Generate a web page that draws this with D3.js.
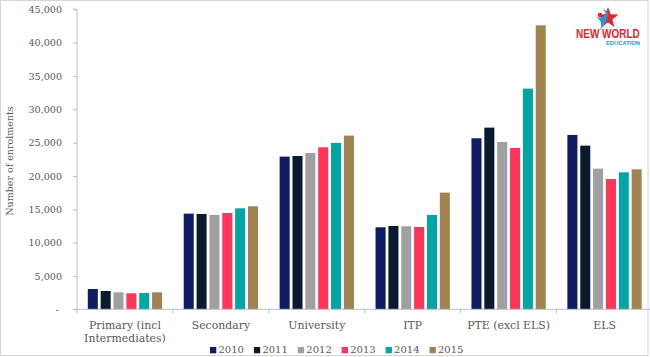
<!DOCTYPE html>
<html><head><meta charset="utf-8">
<script src="https://cdn.jsdelivr.net/npm/d3@7"></script>
<style>
html,body{margin:0;padding:0;background:#fff;}
svg{display:block;}
text{font-family:"DejaVu Serif",serif;fill:#595959;}
</style></head>
<body>
<svg id="chart" width="650" height="357"></svg>
<script>
const categories = ["Primary (incl Intermediates)", "Secondary", "University", "ITP", "PTE (excl ELS)", "ELS"];
const categoryLines = [["Primary (incl", "Intermediates)"], ["Secondary"], ["University"], ["ITP"], ["PTE (excl ELS)"], ["ELS"]];
const years = ["2010", "2011", "2012", "2013", "2014", "2015"];
const colors = ["#0f1c63", "#0b1b2e", "#a0a0a3", "#ff3559", "#00a6a1", "#a08350"];
const values2010 = [3050, 14350, 22900, 12300, 25650, 26150];
const values2011 = [2750, 14300, 23000, 12500, 27250, 24550];
const values2012 = [2550, 14150, 23450, 12450, 25100, 21100];
const values2013 = [2400, 14450, 24300, 12350, 24200, 19550];
const values2014 = [2450, 15150, 24950, 14150, 33100, 20550];
const values2015 = [2550, 15450, 26050, 17500, 42600, 21000];
const seriesValues = [values2010, values2011, values2012, values2013, values2014, values2015];
const yTicks = [0, 5000, 10000, 15000, 20000, 25000, 30000, 35000, 40000, 45000];
const yTitle = "Number of enrolments";

(function () {
const svg = d3.select("#chart");
const pLeft = 77, pRight = 652.5, pTop = 9.3, pBottom = 309.3;

// frame
svg.append("rect").attr("x",0.5).attr("y",0.5).attr("width",647.5).attr("height",355)
  .attr("fill","none").attr("stroke","#d6d6d6");

const x0 = d3.scaleBand().domain(categories).range([pLeft, pRight]).padding(0);
const x1 = d3.scaleBand().domain(years).range([10.8, 85.1]).paddingInner(0.22).paddingOuter(0);
const y = d3.scaleLinear().domain([0, 45000]).range([pBottom, pTop]);

// bars
const groups = svg.append("g").selectAll("g").data(categories).join("g")
  .attr("transform", d => `translate(${x0(d)},0)`);
groups.selectAll("rect").data((c, i) => years.map((yr, j) => ({yr, j, v: seriesValues[j][i]})))
  .join("rect")
  .attr("x", d => x1(d.yr)).attr("width", x1.bandwidth())
  .attr("y", d => y(d.v)).attr("height", d => pBottom - y(d.v))
  .attr("fill", d => colors[d.j]);

// y axis
const yAxis = d3.axisLeft(y).tickValues(yTicks).tickSize(4).tickPadding(11)
  .tickFormat(d => d === 0 ? "-" : d3.format(",")(d));
const ya = svg.append("g").attr("transform", `translate(${pLeft},0)`).call(yAxis);
ya.select(".domain").attr("stroke", "#bfbfbf").attr("d", `M-4,${pTop}H0V${pBottom}`);
ya.selectAll(".tick line").attr("stroke", "#bfbfbf");
ya.selectAll(".tick text").attr("font-size", "9.6px");
ya.selectAll(".tick").filter(d => d === 0).select("text").attr("dx", "-3px");

// x axis
const xa = svg.append("g");
xa.append("line").attr("x1", pLeft - 4).attr("x2", pRight).attr("y1", pBottom).attr("y2", pBottom).attr("stroke", "#bfbfbf");
const seps = categories.map(c => x0(c)).concat([pRight]);
xa.selectAll("line.sep").data(seps).join("line").attr("class","sep")
  .attr("x1", d => d).attr("x2", d => d).attr("y1", pBottom).attr("y2", pBottom + 4).attr("stroke", "#bfbfbf");
categories.forEach((c, i) => {
  const t = xa.append("text").attr("text-anchor", "middle").attr("font-size", "10.9px")
    .attr("x", x0(c) + x0.bandwidth() / 2).attr("y", 329);
  categoryLines[i].forEach((ln, k) => {
    t.append("tspan").attr("x", x0(c) + x0.bandwidth() / 2).attr("dy", k === 0 ? 0 : 12.5).text(ln);
  });
});

// y title
svg.append("text").attr("transform", "translate(13,161) rotate(-90)")
  .attr("text-anchor", "middle").attr("font-size", "9.5px").text(yTitle);

// legend
const lg = svg.append("g").attr("transform", "translate(210,0)");
years.forEach((yr, j) => {
  const g = lg.append("g").attr("transform", `translate(${j * 43.9},0)`);
  g.append("rect").attr("x", 0).attr("y", 347).attr("width", 6.3).attr("height", 6.3).attr("fill", colors[j]);
  g.append("text").attr("x", 8.5).attr("y", 353.3).attr("font-size", "10px").text(yr);
});

// logo
const logo = svg.append("g");
const cx = 608, cy = 18, ro = 11, ri = 4.6;
const starPts = d3.range(10).map(k => {
  const a = -Math.PI / 2 + k * Math.PI / 5;
  const r = k % 2 === 0 ? ro : ri;
  return [cx + r * Math.cos(a), cy + r * Math.sin(a)];
});
logo.append("path").attr("d", "M" + starPts.map(p => p.join(",")).join("L") + "Z").attr("fill", "#e5262f");
logo.append("path").attr("d", "M596,17 Q603,19 606,14 L603,8 L608,13 Q607,23 600,30 Q604,21 596,17Z").attr("fill", "#1e9ad6");
logo.append("circle").attr("cx", 600).attr("cy", 15).attr("r", 2.3).attr("fill", "#e5262f");
logo.append("g").attr("transform", "translate(576,38) scale(0.82,1)")
  .append("text").attr("x", 0).attr("y", 0)
  .style("font-family", "'Liberation Sans', Arial, sans-serif")
  .style("font-weight", "bold").style("font-size", "12.2px")
  .style("fill", "#e5262f").text("NEW WORLD");
logo.append("text").attr("x", 606).attr("y", 45)
  .style("font-family", "'Liberation Sans', sans-serif")
  .style("font-weight", "bold").style("font-size", "5.8px")
  .style("fill", "#1e9ad6").text("EDUCATION");
})();
</script>
</body></html>
